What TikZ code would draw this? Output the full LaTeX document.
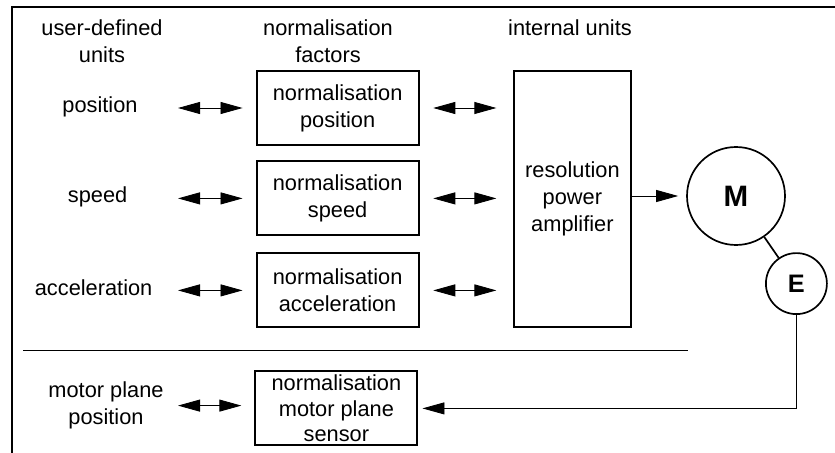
\documentclass[tikz,border=0pt]{standalone}
\usepackage{fontspec}
\setmainfont{Liberation Sans}
\usetikzlibrary{arrows.meta,positioning,shapes}

\begin{document}
\begin{tikzpicture}[
    unitbox/.style={rectangle, draw, line width=1.5pt, minimum width=4.05cm, minimum height=1.85cm,
                    inner sep=1pt, align=center, font=\fontsize{15.5}{19.2}\selectfont},
    lbl/.style={align=center, font=\fontsize{15.5}{19.2}\selectfont},
    biarrow/.style={{Triangle[length=0.55cm,width=0.3cm]}-{Triangle[length=0.55cm,width=0.3cm]}, line width=0.6pt},
    sigarrow/.style={-{Triangle[length=0.55cm,width=0.3cm]}, line width=0.6pt},
    machine/.style={circle, draw, line width=1.2pt, inner sep=0pt}
]
\useasboundingbox (0,0) rectangle (20.875,-11.325);

% Frame and separator
\draw[line width=1pt] (0.3,-11.325) -- (0.3,-0.175) -- (20.875,-0.175);
\draw[line width=0.6pt] (0.575,-8.75) -- (17.2,-8.75);

% Column headings
\node[lbl] (hUser) at (2.55,-1.04) {user-defined\\units};
\node[lbl] (hFactor) at (8.2,-1.04) {normalisation\\factors};
\node[lbl] (hIntern) at (14.25,-0.7) {internal units};

% User-defined quantities
\node[lbl] (lPos) at (2.5,-2.675) {position};
\node[lbl] (lSpeed) at (2.44,-4.93) {speed};
\node[lbl] (lAcc) at (2.34,-7.2) {acceleration};
\node[lbl] (lMotor) at (2.65,-10.14) {motor plane\\position};

% Normalisation boxes
\node[unitbox] (nPos) at (8.44,-2.7) {normalisation\\position};
\node[unitbox] (nSpeed) at (8.44,-4.96) {normalisation\\speed};
\node[unitbox] (nAcc) at (8.44,-7.26) {normalisation\\acceleration};
\node[unitbox, font=\fontsize{15.5}{18}\selectfont, inner sep=0pt] (nMotor) at (8.41,-10.21)
     {normalisation\\motor plane\\sensor};

% Internal units and drive
\node[unitbox, minimum width=2.93cm, minimum height=6.4cm] (res) at (14.31,-4.975)
     {resolution\\power\\amplifier};
\node[machine, minimum size=2.45cm, font=\fontsize{21}{24}\selectfont\bfseries] (motor) at (18.4,-4.9) {M};
\node[machine, minimum size=1.525cm, font=\fontsize{18}{20}\selectfont\bfseries] (enc) at (19.91,-7.09) {E};

% Arrows user units <-> normalisation
\coordinate (lt) at (4.45,0);
\draw[biarrow, shorten >=0.325cm] (lt |- nPos.west) -- (nPos.west);
\draw[biarrow, shorten >=0.325cm] (lt |- nSpeed.west) -- (nSpeed.west);
\draw[biarrow, shorten >=0.325cm] (lt |- nAcc.west) -- (nAcc.west);
\draw[biarrow, shorten >=0.325cm] (lt |- lMotor) -- (nMotor.west |- lMotor);

% Arrows normalisation <-> internal units
\draw[biarrow, shorten <=0.34cm, shorten >=0.41cm] (nPos.east) -- (res.west |- nPos.east);
\draw[biarrow, shorten <=0.34cm, shorten >=0.41cm] (nSpeed.east) -- (res.west |- nSpeed.east);
\draw[biarrow, shorten <=0.34cm, shorten >=0.41cm] (nAcc.east) -- (res.west |- nAcc.east);

% Drive and feedback
\draw[sigarrow, shorten >=0.2cm] (res.east |- motor.west) -- (motor.west);
\draw[line width=1.2pt] (motor) -- (enc);
\draw[sigarrow, shorten >=0.1cm] (enc.south) |- (nMotor.east);
\end{tikzpicture}
\end{document}
